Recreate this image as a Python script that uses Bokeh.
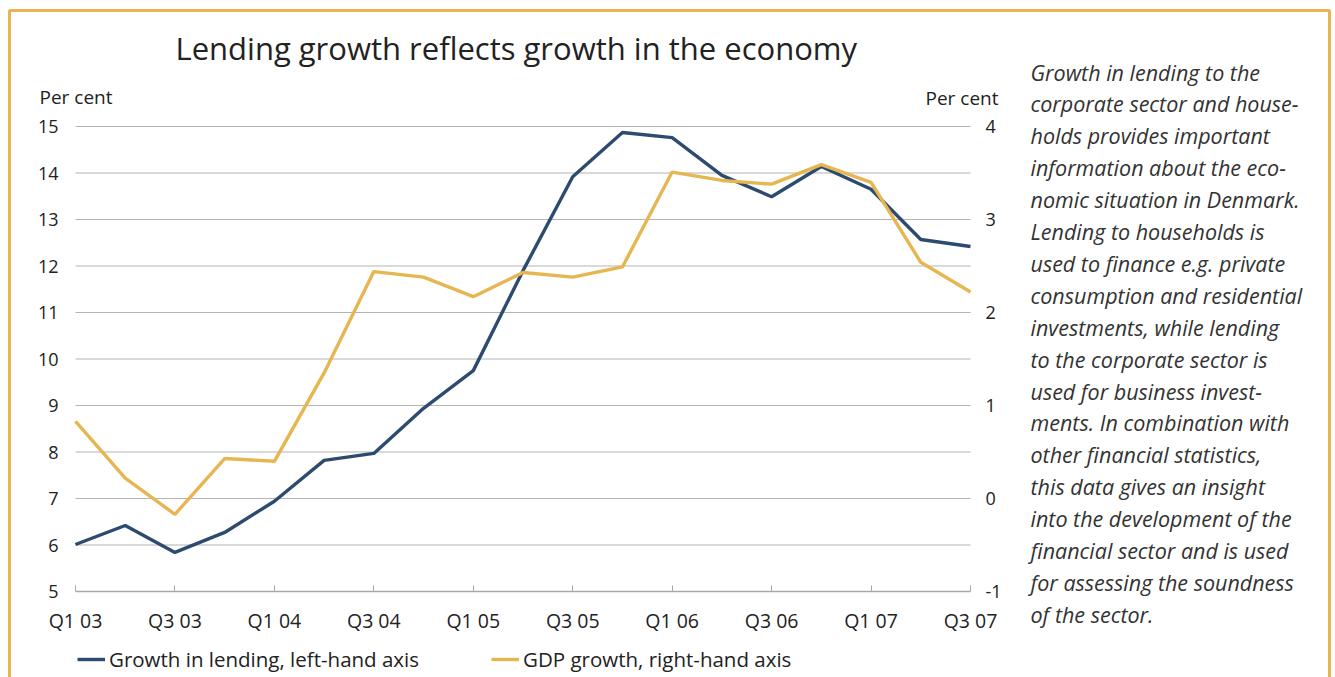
from bokeh.plotting import figure
from bokeh.models import (Range1d, LinearAxis, FixedTicker, Label, Legend, LegendItem,
                          BoxAnnotation, ColumnDataSource)
from bokeh.embed import file_html
from bokeh.resources import INLINE

quarters = ["Q1 03", "Q2 03", "Q3 03", "Q4 03", "Q1 04", "Q2 04", "Q3 04", "Q4 04",
            "Q1 05", "Q2 05", "Q3 05", "Q4 05", "Q1 06", "Q2 06", "Q3 06", "Q4 06",
            "Q1 07", "Q2 07", "Q3 07"]
lending = [6.01, 6.42, 5.84, 6.27, 6.94, 7.82, 7.97, 8.94, 9.75, 11.9, 13.92, 14.87,
           14.76, 13.95, 13.49, 14.14, 13.65, 12.57, 12.42]
gdp = [0.83, 0.22, -0.17, 0.43, 0.40, 1.35, 2.44, 2.38, 2.17, 2.43, 2.38, 2.49,
       3.51, 3.42, 3.38, 3.59, 3.40, 2.54, 2.22]
tick_labels = ["Q1 03", "Q3 03", "Q1 04", "Q3 04", "Q1 05", "Q3 05", "Q1 06", "Q3 06", "Q1 07", "Q3 07"]
left_ticks = [5, 6, 7, 8, 9, 10, 11, 12, 13, 14, 15]
right_ticks = [-1, 0, 1, 2, 3, 4]

title_text = "Lending growth reflects growth in the economy"
unit_text = "Per cent"
series_names = ["Growth in lending, left-hand axis", "GDP growth, right-hand axis"]
paragraph = [
    "Growth in lending to the",
    "corporate sector and house-",
    "holds provides important",
    "information about the eco-",
    "nomic situation in Denmark.",
    "Lending to households is",
    "used to finance e.g. private",
    "consumption and residential",
    "investments, while lending",
    "to the corporate sector is",
    "used for business invest-",
    "ments. In combination with",
    "other financial statistics,",
    "this data gives an insight",
    "into the development of the",
    "financial sector and is used",
    "for assessing the soundness",
    "of the sector.",
]

FONT = "Open Sans"
TXT = "#222222"
BLUE = "#2C4B6E"
YELLOW = "#E6B650"
ORANGE = "#E9B552"
GRID = "#B4B4B4"

W, H = 1335, 677
# pixel box of the plotting area inside the canvas
FL, FR, FT, FB = 75, 970, 126, 591


def top(y):
    """canvas y measured from top -> screen y measured from bottom"""
    return H - y


n = len(quarters) - 1
kx = (FR - FL) / n
ylo, yhi = left_ticks[0], left_ticks[-1]
ky = (FB - FT) / (yhi - ylo)
glo, ghi = right_ticks[0], right_ticks[-1]
kg = (FB - FT) / (ghi - glo)

idx = list(range(len(quarters)))
src = ColumnDataSource(dict(x=idx, q=quarters, lending=lending, gdp=gdp))

p = figure(width=W, height=H, output_backend="svg", toolbar_location=None,
           x_range=Range1d(0 - FL / kx, n + (W - FR) / kx),
           y_range=Range1d(ylo - (H - FB) / ky, yhi + FT / ky),
           min_border=0, y_axis_location=None, x_axis_location=None)
p.extra_y_ranges = {"gdp": Range1d(glo - (H - FB) / kg, ghi + FT / kg)}
p.outline_line_color = None
p.background_fill_color = "white"
p.border_fill_color = "white"

# x axis
xax = LinearAxis(ticker=FixedTicker(ticks=[quarters.index(t) for t in tick_labels]),
                 major_label_overrides={quarters.index(t): t for t in tick_labels},
                 fixed_location=ylo, bounds=(0, n))
xax.axis_line_color = "#A8A8A8"
xax.axis_line_width = 1.5
xax.major_tick_in = 6
xax.major_tick_out = 0
xax.major_tick_line_color = "#A8A8A8"
xax.minor_tick_line_color = None
xax.major_label_text_font = FONT
xax.major_label_text_font_size = "19.5px"
xax.major_label_text_color = TXT
xax.major_label_standoff = 15
p.add_layout(xax, "below")

# left axis
lax = LinearAxis(ticker=FixedTicker(ticks=left_ticks), fixed_location=0, bounds=(ylo, yhi))
lax.axis_line_color = None
lax.major_tick_line_color = None
lax.minor_tick_line_color = None
lax.major_label_text_font = FONT
lax.major_label_text_font_size = "18px"
lax.major_label_text_color = TXT
lax.major_label_standoff = 11
p.add_layout(lax, "left")

# right axis
rax = LinearAxis(y_range_name="gdp", ticker=FixedTicker(ticks=right_ticks), fixed_location=n,
                 bounds=(glo, ghi), major_label_overrides={t: str(t) for t in right_ticks})
rax.axis_line_color = None
rax.major_tick_line_color = None
rax.minor_tick_line_color = None
rax.major_label_text_font = FONT
rax.major_label_text_font_size = "18px"
rax.major_label_text_color = TXT
rax.major_label_standoff = 9
p.add_layout(rax, "right")

# horizontal grid lines (one per left-axis tick, across the plotting area only)
p.xgrid.grid_line_color = None
p.ygrid.grid_line_color = None
p.segment(x0=[0] * (len(left_ticks) - 1), x1=[n] * (len(left_ticks) - 1), y0=left_ticks[1:],
          y1=left_ticks[1:], color=GRID, line_width=1.2)

r1 = p.line("x", "lending", source=src, color=BLUE, line_width=3.4)
r2 = p.line("x", "gdp", source=src, color=YELLOW, line_width=3.4, y_range_name="gdp")

legend = Legend(items=[LegendItem(label=series_names[0], renderers=[r1]),
                       LegendItem(label=series_names[1], renderers=[r2])],
                orientation="horizontal", location=(77, top(673)))
legend.label_text_font = FONT
legend.label_text_font_size = "20.5px"
legend.label_text_color = TXT
legend.glyph_width = 28
legend.glyph_height = 20
legend.label_height = 20
legend.label_standoff = 4
legend.spacing = 72
legend.padding = 0
legend.margin = 0
legend.border_line_alpha = 0
legend.background_fill_alpha = 0
p.add_layout(legend)

# title
p.add_layout(Label(x=175, y=top(68), x_units="screen", y_units="screen", text=title_text,
                   text_font=FONT, text_font_size="31px", text_color=TXT))
# unit labels
p.add_layout(Label(x=39, y=top(109), x_units="screen", y_units="screen", text=unit_text,
                   text_font=FONT, text_font_size="19px", text_color=TXT))
p.add_layout(Label(x=998, y=top(110), x_units="screen", y_units="screen", text=unit_text,
                   text_font=FONT, text_font_size="19px", text_color=TXT, text_align="right"))
# paragraph
for i, line in enumerate(paragraph):
    p.add_layout(Label(x=1030, y=top(86 + 31.9 * i), x_units="screen", y_units="screen",
                       text=line, text_font=FONT, text_font_size="21.5px",
                       text_font_style="italic", text_color="#333333"))

# orange frame (top, left and right edges)
p.add_layout(BoxAnnotation(left=9, right=1329, top=top(10), bottom=-20, left_units="screen",
                           right_units="screen", top_units="screen", bottom_units="screen",
                           fill_color=None, fill_alpha=0, line_color=ORANGE, line_alpha=1,
                           line_width=3))

open("out.html", "w").write(file_html(p, INLINE))
